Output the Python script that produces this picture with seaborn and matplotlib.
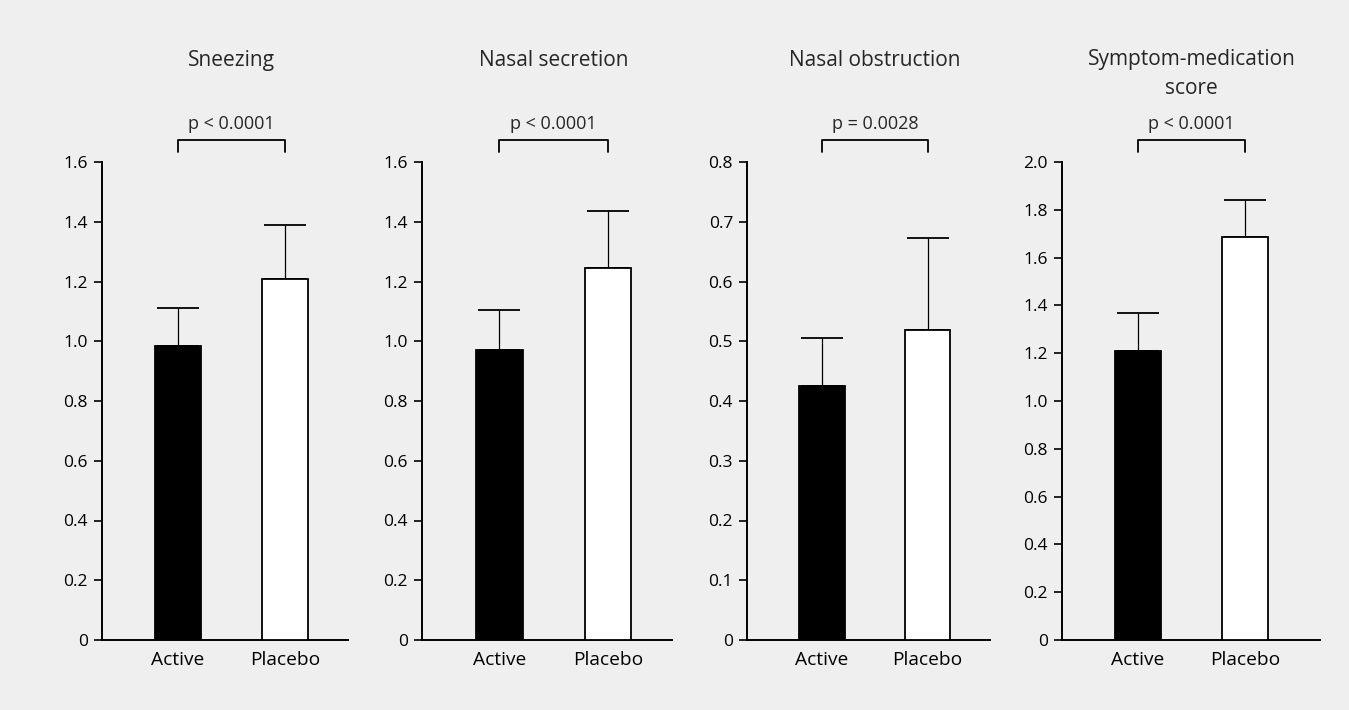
import numpy as np
import pandas as pd
import matplotlib
matplotlib.use('Agg')
import matplotlib.pyplot as plt
import matplotlib.transforms as mtransforms
import seaborn as sns

# values
titles = ['Sneezing', 'Nasal secretion', 'Nasal obstruction', 'Symptom-medication\nscore']
groups = ['Active', 'Placebo']
means = [[0.985, 1.21], [0.97, 1.245], [0.425, 0.518], [1.21, 1.685]]
upper = [[1.11, 1.39], [1.105, 1.435], [0.505, 0.672], [1.37, 1.84]]
pvals = ['p < 0.0001', 'p < 0.0001', 'p = 0.0028', 'p < 0.0001']
ymax = [1.6, 1.6, 0.8, 2.0]
ystep = [0.2, 0.2, 0.1, 0.2]

bg = '#efefef'
sns.set_theme(style='ticks')
plt.rcParams['font.family'] = ['Open Sans', 'DejaVu Sans']

fig = plt.figure(figsize=(13.49, 7.1), dpi=100, facecolor=bg)
W, H = 1349, 710
lefts = [102, 422, 747, 1062]
widths = [246, 250, 243, 258]
bottom_px, top_px = 640, 162

for i in range(4):
    ax = fig.add_axes([lefts[i] / W, 1 - bottom_px / H, widths[i] / W, (bottom_px - top_px) / H])
    ax.set_facecolor(bg)
    df = pd.DataFrame({'group': groups, 'value': means[i]})
    sns.barplot(data=df, x='group', y='value', hue='group', palette=['black', 'white'],
                edgecolor='black', linewidth=1.3, width=0.43, legend=False, ax=ax,
                zorder=3)
    m = np.array(means[i])
    u = np.array(upper[i])
    ax.errorbar([0, 1], m, yerr=[np.zeros(2), u - m], fmt='none', ecolor='black',
                elinewidth=0.9, capsize=15, capthick=1.3, zorder=2)

    ax.set_ylim(0, ymax[i])
    ax.set_xlim(-0.71, 1.59 if i != 3 else 1.70)
    ticks = np.round(np.arange(0, ymax[i] + 1e-9, ystep[i]), 2)
    ax.set_yticks(ticks)
    ax.set_yticklabels(['0' if t == 0 else f'{t:.1f}' for t in ticks])
    ax.set_xlabel('')
    ax.set_ylabel('')
    ax.tick_params(axis='y', length=6, width=1.2, labelsize=12.5, pad=4, colors='black')
    ax.tick_params(axis='x', length=0, labelsize=13.8, pad=8, colors='black')
    sns.despine(ax=ax)
    for s in ['left', 'bottom']:
        ax.spines[s].set_linewidth(1.4)
        ax.spines[s].set_color('black')

    # significance bracket
    tr = mtransforms.blended_transform_factory(ax.transData, ax.transAxes)
    ax.plot([0, 0, 1, 1], [1.021, 1.046, 1.046, 1.021], color='black', lw=1.3,
            transform=tr, clip_on=False)
    ax.text(0.5, 1.079, pvals[i], transform=tr, ha='center', va='center', fontsize=13)

    # panel title
    ty = 1.213 if '\n' not in titles[i] else 1.184
    ax.text(0.5, ty, titles[i], transform=tr, ha='center', va='center', fontsize=15,
            linespacing=1.45)

fig.savefig('out.png', dpi=100, facecolor=bg)
